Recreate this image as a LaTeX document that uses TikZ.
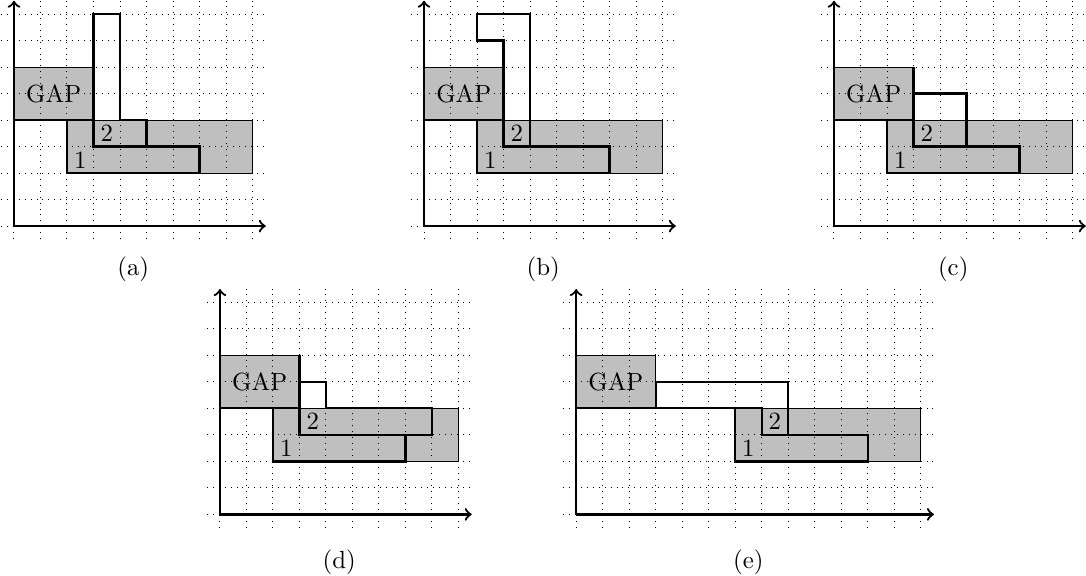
\documentclass[tikz,border=0pt]{standalone}
\usepackage{tikz}

\begin{document}
\begin{tikzpicture}[
  scale=0.375,
  raster/.style={dotted, thin},
  shade/.style={draw, thin, fill=lightgray},
  piece/.style={draw, line width=0.9pt, line join=miter},
  axis/.style={->, line width=0.9pt},
  lbl/.style={inner sep=0pt}
]
  \useasboundingbox (0,0) rectangle (40.98,21.70);

  % common background of the five boards
  \foreach \px/\py/\sl/\gx/\n in {0.528/13.17/2/9/a, 16.0/13.17/2/9/b, 31.47/13.17/2/9/c, 8.30/2.29/2/9/d, 21.74/2.29/6/13/e} {
    \begin{scope}[shift={(\px,\py)}]
      \draw[shade] (0,4) rectangle (3,6);
      \draw[shade] (\sl,2) rectangle (\sl+7,4);
      \foreach \i in {0,...,\gx}
        \draw[raster] (\i,-0.5) -- (\i,8.5);
      \foreach \j in {0,...,8}
        \draw[raster] (-0.5,\j) -- (\gx+0.5,\j);
      \draw[axis] (0,0) -- (\gx+0.5,0);
      \draw[axis] (0,0) -- (0,8.5);
      \draw[piece] (0,4) -- (3,4);
      \node[lbl] (gap\n) at (1.5,5) {GAP};
    \end{scope}
  }

  % (a)
  \begin{scope}[shift={(0.528,13.17)}]
    \draw[piece] (2,2) -- (7,2) -- (7,3) -- (3,3) -- (3,4) -- (2,4) -- cycle;
    \draw[piece] (3,3) -- (5,3) -- (5,4) -- (4,4) -- (4,8) -- (3,8) -- cycle;
    \node[lbl] (oneA) at (2.5,2.5) {1};
    \node[lbl] (twoA) at (3.5,3.5) {2};
    \node (capA) at (4.5,-1.64) {(a)};
  \end{scope}

  % (b)
  \begin{scope}[shift={(16.0,13.17)}]
    \draw[piece] (2,2) -- (7,2) -- (7,3) -- (3,3) -- (3,4) -- (2,4) -- cycle;
    \draw[piece] (3,3) -- (4,3) -- (4,8) -- (2,8) -- (2,7) -- (3,7) -- cycle;
    \node[lbl] (oneB) at (2.5,2.5) {1};
    \node[lbl] (twoB) at (3.5,3.5) {2};
    \node (capB) at (4.5,-1.64) {(b)};
  \end{scope}

  % (c)
  \begin{scope}[shift={(31.47,13.17)}]
    \draw[piece] (2,2) -- (7,2) -- (7,3) -- (3,3) -- (3,4) -- (2,4) -- cycle;
    \draw[piece] (3,3) rectangle (5,5);
    \draw[piece] (3,4) -- (3,6);
    \node[lbl] (oneC) at (2.5,2.5) {1};
    \node[lbl] (twoC) at (3.5,3.5) {2};
    \node (capC) at (4.5,-1.64) {(c)};
  \end{scope}

  % (d)
  \begin{scope}[shift={(8.30,2.29)}]
    \draw[piece] (2,2) -- (7,2) -- (7,3) -- (3,3) -- (3,4) -- (2,4) -- cycle;
    \draw[piece] (3,3) -- (8,3) -- (8,4) -- (4,4) -- (4,5) -- (3,5) -- cycle;
    \draw[piece] (3,5) -- (3,6);
    \node[lbl] (oneD) at (2.5,2.5) {1};
    \node[lbl] (twoD) at (3.5,3.5) {2};
    \node (capD) at (4.5,-1.79) {(d)};
  \end{scope}

  % (e)
  \begin{scope}[shift={(21.74,2.29)}]
    \draw[piece] (6,2) -- (11,2) -- (11,3) -- (7,3) -- (7,4) -- (6,4) -- cycle;
    \draw[piece] (3,4) -- (7,4) -- (7,3) -- (8,3) -- (8,5) -- (3,5) -- cycle;
    \node[lbl] (oneE) at (6.5,2.5) {1};
    \node[lbl] (twoE) at (7.5,3.5) {2};
    \node (capE) at (6.5,-1.79) {(e)};
  \end{scope}
\end{tikzpicture}
\end{document}
